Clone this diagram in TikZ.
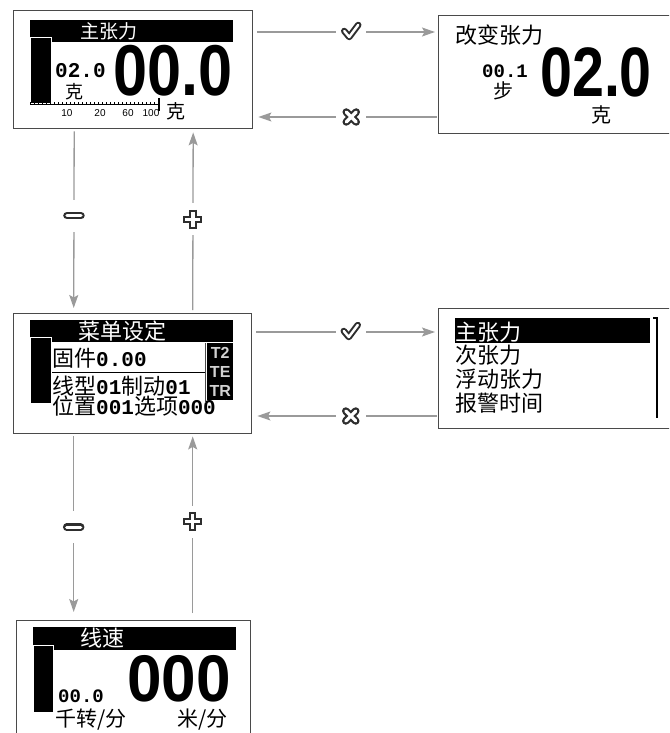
\documentclass[tikz,border=0pt]{standalone}
\usepackage{fontspec}
\usepackage{tikz}
\usepackage{xcolor}
\usetikzlibrary{arrows.meta}

\newfontfamily\cjk{Noto Sans CJK SC}
\newfontfamily\lcd{Liberation Mono}
\newfontfamily\seg{Liberation Sans}
\newcommand{\fsz}[1]{\fontsize{#1}{#1}\selectfont}
\newcommand{\dg}[1]{{\lcd\bfseries\fsz{21}#1}}

\definecolor{flowgray}{HTML}{9A9A9A}
\definecolor{framegray}{HTML}{4A4A4A}
\definecolor{signgray}{HTML}{2E2E2E}

\begin{document}
\begin{tikzpicture}[x=1pt,y=-1pt,
    panel/.style={draw=framegray, line width=1.4pt, inner sep=0pt, anchor=north west},
    bar/.style={fill=black, inner sep=0pt, anchor=north west},
    lbl/.style={inner sep=0pt, anchor=base west, font=\cjk\fsz{22}},
    mono/.style={inner sep=0pt, anchor=base west, font=\lcd\bfseries\fsz{21}},
    big/.style={inner sep=0pt, anchor=base west, font=\seg\bfseries\fsz{#1}},
    tiny/.style={inner sep=0pt, font=\seg\fsz{10}},
    badge/.style={fill=black, text=gray!35, inner sep=0pt, anchor=north west,
      minimum width=26pt, minimum height=19pt, font=\seg\bfseries\fsz{16}},
    flow/.style={draw=flowgray, line width=1.3pt,
      -{Stealth[length=13pt,width=9pt,inset=2.5pt]}},
    signpen/.style={-, shorten <=0pt, shorten >=0pt, line cap=round, line join=round},
    signh/.style={fill=white, inner sep=0pt, minimum width=30pt, minimum height=20pt},
    signv/.style={fill=white, inner sep=0pt, minimum width=26pt, minimum height=32pt},
    signok/.style={signh, path picture={
      \draw[signpen, signgray, line width=6.5pt, shift={(path picture bounding box.center)}]
        (-7,-1) -- (-2,5) -- (7,-7);
      \draw[signpen, white, line width=2.5pt, shift={(path picture bounding box.center)}]
        (-7,-1) -- (-2,5) -- (7,-7);}},
    signno/.style={signh, path picture={
      \draw[signpen, signgray, line width=7.5pt, shift={(path picture bounding box.center)}]
        (-5,-5) -- (5,5) (-5,5) -- (5,-5);
      \draw[signpen, white, line width=3.2pt, shift={(path picture bounding box.center)}]
        (-5,-5) -- (5,5) (-5,5) -- (5,-5);}},
    signminus/.style={signv, path picture={
      \draw[signpen, signgray, line width=7.5pt, shift={(path picture bounding box.center)}]
        (-7,0) -- (7,0);
      \draw[signpen, white, line width=3.2pt, shift={(path picture bounding box.center)}]
        (-7,0) -- (7,0);}},
    signplus/.style={signv, path picture={
      \draw[signpen, line cap=butt, signgray, line width=7.5pt, shift={(path picture bounding box.center)}]
        (-9.5,0) -- (9.5,0) (0,-9.5) -- (0,9.5);
      \draw[signpen, line cap=butt, white, line width=3.2pt, shift={(path picture bounding box.center)}]
        (-7.5,0) -- (7.5,0) (0,-7.5) -- (0,7.5);}}]

  \clip (0,0) rectangle (669,733);

  % panels
  \node[panel, minimum width=239pt, minimum height=118pt] (main) at (13,10) {};
  \node[panel, minimum width=240pt, minimum height=118pt] (change) at (438,15) {};
  \node[panel, minimum width=238pt, minimum height=120pt] (menu) at (13,313) {};
  \node[panel, minimum width=240pt, minimum height=120pt] (list) at (438,308) {};
  \node[panel, minimum width=234pt, minimum height=130pt] (speed) at (16,620) {};

  % main tension screen
  \node[bar, minimum width=203pt, minimum height=22pt] (mainhdr) at (30,20) {};
  \node[bar, draw=white, line width=1pt, minimum width=21pt, minimum height=66pt] (mainlvl) at (30,37) {};
  \node[lbl, text=white, font=\cjk\fsz{19}] (mainttl) at (80,39) {主张力};
  \node[mono] (mainstep) at (55,78) {02.0};
  \node[lbl, font=\cjk\fsz{18}] (mainstepu) at (65,99) {克};
  \node[big=72, xscale=0.85] (mainval) at (113,96) {00.0};
  \draw[black, line width=1pt] (30,105) -- (158,105);
  \foreach \tx in {30,34,...,154} \draw[black, line width=0.6pt] (\tx,105) -- (\tx,102.5);
  \draw[black, line width=1.2pt] (159,98) -- (159,111);
  \node[tiny] (mainsc1) at (67,113) {10};
  \node[tiny] (mainsc2) at (100,113) {20};
  \node[tiny] (mainsc3) at (128,113) {60};
  \node[tiny] (mainsc4) at (151,113) {100};
  \node[lbl, font=\cjk\fsz{19}] (mainunit) at (166,119) {克};

  % change tension screen
  \node[lbl] (changettl) at (455,43.5) {改变张力};
  \node[mono, font=\lcd\bfseries\fsz{19}] (changestep) at (482,78) {00.1};
  \node[lbl, font=\cjk\fsz{20}] (changestepu) at (493,98.5) {步};
  \node[big=70, xscale=0.82] (changeval) at (540,97) {02.0};
  \node[lbl, font=\cjk\fsz{20}] (changeunit) at (591,122) {克};

  % menu screen
  \node[bar, minimum width=203pt, minimum height=22pt] (menuhdr) at (30,320) {};
  \node[bar, draw=white, line width=1pt, minimum width=21pt, minimum height=66pt] (menulvl) at (30,337) {};
  \node[lbl, text=white] (menuttl) at (78,339.5) {菜单设定};
  \node[lbl] (menufw) at (52,366) {固件\dg{0.00}};
  \draw[black, line width=1pt] (52,372) -- (205,372);
  \node[lbl] (menuline) at (52,394) {线型\dg{01}制动\dg{01}};
  \node[lbl] (menupos) at (52,414) {位置\dg{001}选项\dg{000}};
  \draw[framegray, line width=1pt] (205,343) -- (205,403);
  \node[badge] (menut2) at (207,343) {T2};
  \node[badge] (menute) at (207,362) {TE};
  \node[badge] (menutr) at (207,381) {TR};

  % list screen
  \node[bar, minimum width=195pt, minimum height=25pt] (listsel) at (455,318) {};
  \node[lbl, text=white] (list1) at (455,340) {主张力};
  \node[lbl] (list2) at (455,363) {次张力};
  \node[lbl] (list3) at (455,387) {浮动张力};
  \node[lbl] (list4) at (455,411) {报警时间};
  \draw[black, line width=1.8pt] (653,318) -- (657,318) -- (657,418);

  % line speed screen
  \node[bar, minimum width=203pt, minimum height=23pt] (speedhdr) at (33,627) {};
  \node[bar, draw=white, line width=1pt, minimum width=20pt, minimum height=67pt] (speedlvl) at (33,645) {};
  \node[lbl, text=white] (speedttl) at (80,646.5) {线速};
  \node[mono, font=\lcd\bfseries\fsz{19}] (speedstep) at (58,702) {00.0};
  \node[big=66, xscale=0.94] (speedval) at (127,701) {000};
  \node[lbl, font=\cjk\fsz{21}] (speedrpm) at (55,726) {千转/分};
  \node[lbl, font=\cjk\fsz{21}] (speedmpm) at (177,726) {米/分};

  % transitions
  \draw[flow, shorten <=4pt, shorten >=3pt] ([yshift=-22pt]main.north east)
    -- node[pos=0.53, signok] (ok1) {} ([yshift=-17pt]change.north west);
  \draw[flow, shorten <=1pt, shorten >=5pt] ([yshift=-102pt]change.north west)
    -- node[pos=0.47, signno] (no1) {} ([yshift=-107pt]main.north east);
  \draw[flow, shorten <=4pt, shorten >=3pt] ([yshift=-19pt]menu.north east)
    -- node[pos=0.53, signok] (ok2) {} ([yshift=-24pt]list.north west);
  \draw[flow, shorten <=1pt, shorten >=5pt] ([yshift=-108pt]list.north west)
    -- node[pos=0.47, signno] (no2) {} ([yshift=-103pt]menu.north east);
  \draw[flow, shorten <=2pt, shorten >=5pt] ([xshift=-59pt]main.south)
    -- node[pos=0.47, signminus] (dn1) {} ([xshift=-59pt]menu.north);
  \draw[flow, shorten <=3pt, shorten >=3pt] ([xshift=60pt]menu.north)
    -- node[pos=0.51, signplus] (up1) {} ([xshift=60pt]main.south);
  \draw[flow, shorten <=2pt, shorten >=8pt] ([xshift=-59pt]menu.south)
    -- node[pos=0.50, signminus] (dn2) {} ([xshift=-60pt]speed.north);
  \draw[flow, shorten <=7pt, shorten >=2pt] ([xshift=59pt]speed.north)
    -- node[pos=0.53, signplus] (up2) {} ([xshift=60pt]menu.south);
\end{tikzpicture}
\end{document}
